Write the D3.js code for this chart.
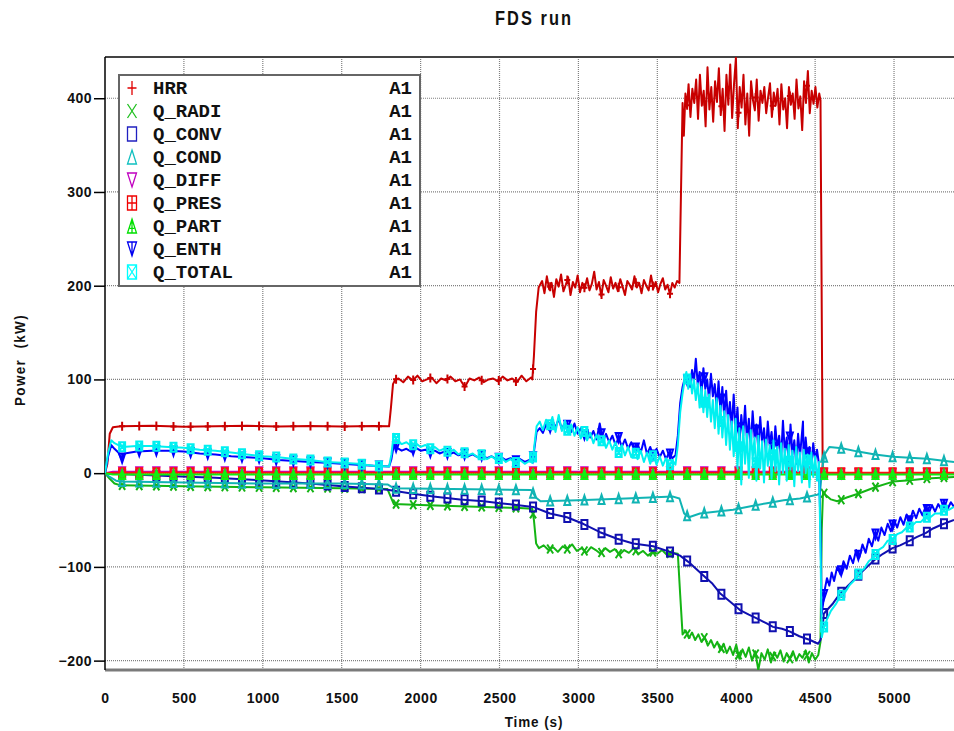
<!DOCTYPE html>
<html>
<head>
<meta charset="utf-8">
<title>FDS run</title>
<style>
  body {margin: 0; background: #fff;}
  svg {display: block;}
  .lbl {font-family: 'Liberation Sans', Arial, sans-serif; font-weight: bold; fill: #111;}
  .tick text {font-family: 'Liberation Sans', Arial, sans-serif; font-weight: bold; font-size: 14px; fill: #111; letter-spacing: 0.5px;}
  .legend-text {font-family: 'Liberation Mono', 'DejaVu Sans Mono', monospace; font-weight: bold; font-size: 19px; fill: #111;}
</style>
</head>
<body>
<svg></svg>
<script src="https://d3js.org/d3.v7.min.js"></script>
<script>
// ---- data: [time (s), power (kW)] ----
const hrr = [[0,0],[15,10],[30,42],[50,49],[100,50],[300,50.5],[500,49.5],[700,50],[900,50.5],[1100,49.8],[1300,50.3],[1500,49.7],[1700,50.2],[1800,50],[1812,70],[1825,95],[1840,100],
  [1860,101],[1890,97],[1920,103],[1950,99],[1980,104],[2010,98],[2040,100],[2070,102],[2100,96],[2130,101],[2160,99],[2190,103],[2220,98],[2250,100],[2280,92],[2310,101],[2340,99],[2370,102],[2400,97],[2430,100],[2460,101],[2490,98],[2520,103],[2550,99],[2580,101],[2610,97],[2640,104],[2670,98],[2700,102],[2708,100],[2718,125],[2732,172],[2748,198],
  [2770,205],[2785,192],[2800,210],[2815,196],[2830,203],[2845,188],[2860,207],[2875,199],[2890,212],[2905,194],[2920,201],[2935,209],[2950,190],[2965,204],[2980,198],[2995,211],[3010,193],[3025,203],[3040,197],[3055,208],[3070,195],[3085,202],[3100,215],[3115,196],[3130,204],[3145,189],[3160,206],[3175,200],[3190,193],[3205,209],[3220,197],[3235,203],[3250,194],[3265,207],[3280,199],[3295,190],[3310,205],[3325,201],[3340,196],[3355,210],[3370,198],[3385,203],[3400,192],[3415,206],[3430,200],[3445,195],[3460,211],[3475,197],[3490,204],[3505,193],[3520,202],[3535,208],[3550,196],[3565,201],[3580,191],[3595,203],[3610,198],[3625,205],[3640,203],[3650,300],[3660,395],
  [3668,360],[3678,405],[3688,390],[3698,415],[3710,380],[3722,410],[3734,395],[3746,420],[3758,378],[3770,425],[3782,392],[3794,408],[3806,370],[3818,433],[3830,388],[3842,412],[3854,375],[3866,418],[3878,396],[3890,432],[3902,382],[3914,410],[3926,365],[3938,425],[3950,393],[3962,436],[3974,379],[3986,415],[3998,443],[4010,368],[4022,412],[4034,390],[4046,425],[4058,372],[4070,405],[4082,360],[4094,418],[4106,398],[4118,387],[4130,420],[4142,376],[4154,408],[4166,395],[4178,412],[4190,384],[4202,401],[4214,416],[4226,380],[4238,406],[4250,392],[4262,410],[4274,372],[4286,415],[4298,388],[4310,400],[4322,368],[4334,412],[4346,393],[4358,405],[4370,378],[4382,420],[4394,389],[4406,402],[4418,366],[4430,418],[4442,395],[4454,429],[4466,384],[4478,408],[4490,394],[4502,412],[4514,390],[4526,405],[4534,398],[4541,200],[4548,0],[4700,0.3],[5000,-0.2],[5380,0]];

const qRadi = [[0,0],[30,-6],[60,-11],[100,-13],[500,-14],[1000,-15],[1500,-16],[1790,-17],[1810,-25],[1830,-33],[2000,-34],[2200,-35],[2400,-36],[2600,-37],[2708,-38],[2718,-50],[2732,-75],[2750,-80],
  [2780,-77],[2810,-82],[2840,-79],[2870,-84],[2900,-78],[2930,-81],[2960,-76],[2990,-83],[3020,-80],[3050,-85],[3080,-79],[3110,-82],[3140,-86],[3170,-80],[3200,-84],[3230,-81],[3260,-87],[3290,-82],[3320,-85],[3350,-80],[3380,-86],[3410,-83],[3440,-88],[3470,-84],[3500,-86],[3530,-82],[3560,-87],[3590,-85],[3630,-86],[3645,-130],[3660,-172],
  [3680,-168],[3700,-176],[3720,-170],[3740,-178],[3760,-172],[3780,-180],[3800,-175],[3820,-184],[3840,-178],[3860,-186],[3880,-180],[3900,-189],[3920,-182],[3940,-192],[3960,-185],[3980,-194],[4000,-183],[4020,-198],[4040,-188],[4060,-196],[4080,-186],[4100,-200],[4120,-190],[4140,-210],[4160,-192],[4180,-199],[4200,-188],[4220,-202],[4240,-191],[4260,-197],[4280,-189],[4300,-201],[4320,-192],[4340,-198],[4360,-190],[4380,-200],[4400,-193],[4420,-197],[4440,-189],[4460,-202],[4480,-192],[4500,-199],[4520,-194],[4534,-180],[4542,-60],[4550,-20],[4565,-23],[4600,-28],[4640,-30],[4700,-26],[4772,-22],[4880,-15],[4994,-9],[5101,-7.5],[5209,-5.7],[5380,-4]];

const qConv = [[0,0],[100,-1],[400,-3],[700,-5],[982,-7.5],[1300,-11],[1500,-14],[1743,-17],[1800,-18],[1950,-22],[2080,-25],[2250,-28],[2400,-30],[2503,-32],[2713,-36],[2820,-43],[2927,-47],[3030,-54],[3137,-63],[3245,-70],[3347,-75],[3474,-78],[3580,-84],[3644,-88],[3707,-96],[3790,-109],[3850,-118],[3897,-128],[3960,-137],[4024,-146],[4080,-151],[4130,-155],[4190,-160],[4233,-164],[4290,-166],[4341,-169],[4400,-174],[4468,-178],[4519,-182],[4534,-178],
  [4545,-170],[4555,-150],[4575,-146],[4613,-139],[4660,-128],[4721,-118],[4780,-108],[4829,-100],[4880,-92],[4930,-86],[4990,-80],[5038,-77],[5100,-72],[5146,-68],[5200,-64],[5247,-59],[5300,-55],[5380,-50]];

const qCond = [[0,0],[30,-4],[70,-8],[100,-9],[500,-10],[1000,-11],[1500,-11],[1790,-12],[1830,-16],[2200,-17],[2700,-18],[2730,-26],[2760,-30],[3000,-29],[3300,-27],[3600,-25],[3640,-27],[3670,-43],[3700,-47],[3770,-43],[3880,-41],[3980,-39],[4100,-35],[4195,-32],[4300,-29],[4404,-27],[4512,-23],[4530,-22],[4545,5],[4560,20],[4590,28],[4670,26.5],[4772,23],[4880,20],[4994,17.5],[5100,16.5],[5209,15.5],[5380,12]];

const qDiff = [[0,0],[50,1.5],[4530,1.5],[4550,0],[5380,0]];
const qPres = [[0,0],[50,0.5],[5380,0.5]];
const qPart = [[0,0],[50,-1.5],[5380,-1.5]];

const qEnth = [[0,0],[20,18],[40,30],[60,26],[85,22],[105,15],[125,21],[200,23],[300,24],[400,24],[500,23],[600,21],[700,20],[800,18],[900,17],[1000,16],[1100,14],[1200,13],[1300,12],[1400,11],[1500,10],[1600,9],[1700,8],[1800,7],
  [1815,15],[1830,30],[1850,27],[1880,24],[1910,26],[1940,23],[1970,27],[2000,24],[2030,25],[2060,22],[2090,24],[2120,21],[2150,23],[2180,20],[2210,22],[2240,19],[2270,21],[2300,18],[2330,20],[2360,17],[2390,19],[2420,16],[2450,18],[2480,15],[2510,17],[2540,14],[2570,16],[2600,13],[2630,15],[2660,12],[2690,14],[2708,13],
  [2720,25],[2735,44],[2755,48],[2775,43],[2795,52],[2815,46],[2835,55],[2855,49],[2875,58],[2895,47],[2915,54],[2935,50],[2955,44],[2975,53],[2995,42],[3015,48],[3035,40],[3055,47],[3075,38],[3095,45],[3115,36],[3135,53],[3155,34],[3175,42],[3195,33],[3215,40],[3235,30],[3255,38],[3275,28],[3295,36],[3315,26],[3335,33],[3355,24],[3375,31],[3395,22],[3415,35],[3435,20],[3455,28],[3475,18],[3495,26],[3515,17],[3535,24],[3555,15],[3575,22],[3595,16],[3615,19],
  [3630,40],[3645,75],[3660,92],[3672,100],[3684,96],[3696,104],[3708,92],[3720,110],[3732,98],[3744,122],[3756,95],[3768,108],[3780,85],[3792,112],[3804,90],[3816,100],[3828,78],[3840,106],[3852,82],[3864,95],[3876,70],[3888,98],[3900,66],[3912,92],[3924,60],[3936,88],[3948,55],[3960,76],[3972,48],[3984,84],[3996,45],[4008,70],[4020,30],[4032,62],[4044,40],[4056,72],[4068,35],[4080,58],[4092,28],[4104,66],[4116,38],[4128,52],[4140,25],[4152,60],[4164,32],[4176,48],[4188,22],[4200,55],[4212,30],[4224,44],[4236,18],[4248,50],[4260,26],[4272,40],[4284,15],[4296,56],[4308,22],[4320,38],[4332,12],[4344,52],[4356,20],[4368,35],[4380,10],[4392,42],[4404,18],[4423,55],[4428,8],[4440,38],[4452,15],[4464,28],[4476,6],[4488,32],[4500,14],[4512,25],[4524,10],
  [4534,-60],[4542,-150],[4550,-140],[4560,-125],[4575,-112],[4590,-120],[4605,-106],[4620,-115],[4640,-100],[4660,-108],[4680,-94],[4700,-102],[4720,-88],[4740,-96],[4760,-82],[4780,-90],[4800,-76],[4820,-85],[4840,-70],[4860,-78],[4880,-64],[4900,-72],[4920,-58],[4940,-66],[4960,-54],[4980,-62],[5000,-50],[5020,-58],[5040,-47],[5060,-55],[5080,-44],[5100,-51],[5120,-40],[5140,-48],[5160,-38],[5180,-45],[5200,-36],[5220,-43],[5240,-34],[5260,-41],[5280,-33],[5300,-39],[5320,-32],[5340,-38],[5360,-31],[5380,-36]];

const qTotal = [[0,0],[20,22],[40,35],[60,32],[85,30],[110,28],[200,29],[300,29],[400,28],[500,27],[600,25],[700,24],[800,22],[900,20],[1000,18],[1100,17],[1200,15],[1300,14],[1400,12],[1500,11],[1600,10],[1700,8],[1800,7],
  [1815,20],[1830,42],[1850,35],[1880,31],[1910,33],[1940,29],[1970,32],[2000,28],[2030,30],[2060,26],[2090,28],[2120,24],[2150,26],[2180,22],[2210,25],[2240,20],[2270,23],[2300,19],[2330,21],[2360,17],[2390,20],[2420,15],[2450,18],[2480,14],[2510,17],[2540,12],[2570,15],[2600,11],[2630,14],[2660,10],[2690,13],[2708,11],
  [2720,28],[2735,50],[2755,55],[2775,46],[2795,57],[2815,48],[2835,60],[2855,44],[2875,62],[2895,45],[2915,56],[2935,42],[2955,52],[2975,40],[2995,49],[3015,37],[3035,46],[3055,35],[3075,43],[3095,32],[3115,41],[3135,30],[3155,38],[3175,27],[3195,35],[3215,25],[3235,33],[3255,22],[3275,30],[3295,19],[3315,28],[3335,17],[3355,26],[3375,15],[3395,24],[3415,12],[3435,22],[3455,10],[3475,20],[3495,9],[3515,18],[3535,8],[3555,16],[3575,7],[3595,14],[3615,9],
  [3630,30],[3645,65],[3660,85],[3672,98],[3684,108],[3696,90],[3708,105],[3720,85],[3732,100],[3744,78],[3756,96],[3768,70],[3780,92],[3792,65],[3804,88],[3816,60],[3828,84],[3840,55],[3852,78],[3864,48],[3876,80],[3888,42],[3900,72],[3912,38],[3924,66],[3936,30],[3948,62],[3960,25],[3972,55],[3984,18],[3996,58],[4008,5],[4020,48],[4032,-12],[4044,50],[4056,10],[4068,42],[4080,-5],[4092,46],[4104,15],[4116,38],[4128,-8],[4140,40],[4152,5],[4164,34],[4176,-10],[4188,36],[4200,8],[4212,30],[4224,-6],[4236,35],[4248,2],[4260,28],[4272,-12],[4284,32],[4296,0],[4308,26],[4320,-8],[4332,30],[4344,4],[4356,24],[4368,-14],[4380,28],[4392,2],[4404,22],[4416,-10],[4428,25],[4440,0],[4452,20],[4464,-15],[4476,22],[4488,-4],[4500,18],[4512,-8],[4524,12],
  [4534,-80],[4542,-175],[4555,-165],[4575,-156],[4600,-147],[4630,-140],[4660,-131],[4690,-127],[4720,-119],[4750,-114],[4780,-106],[4810,-102],[4840,-94],[4870,-90],[4900,-82],[4930,-79],[4960,-72],[4990,-71],[5020,-65],[5050,-63],[5080,-58],[5110,-57],[5140,-52],[5170,-52],[5200,-47],[5230,-47],[5260,-43],[5290,-43],[5320,-39],[5350,-39],[5380,-36]];

const seriesNames = ["HRR", "Q_RADI", "Q_CONV", "Q_COND", "Q_DIFF", "Q_PRES", "Q_PART", "Q_ENTH", "Q_TOTAL"];
const seriesData = [hrr, qRadi, qConv, qCond, qDiff, qPres, qPart, qEnth, qTotal];
const seriesColors = ["#c80000", "#14b414", "#1010b0", "#10b4b4", "#c800c8", "#ff1010", "#10f010", "#0000ff", "#00f0f0"];
const legendColors = ["#e00000", "#20c020", "#2020c0", "#10c0c0", "#c000c0", "#f00000", "#00e000", "#0000f0", "#00ffff"];
const seriesMarkers = ["plus", "cross", "rect", "triUp", "triDown", "rectPlus", "triUpBar", "triDownBar", "rectX"];
const xTicks = [0, 500, 1000, 1500, 2000, 2500, 3000, 3500, 4000, 4500, 5000];
const yTicks = [-200, -100, 0, 100, 200, 300, 400];

// ---- layout ----
const W = 954, H = 731;
const pLeft = 105, pRight = 954, pTop = 57, pBottom = 670;

const svg = d3.select("svg").attr("width", W).attr("height", H);

const x = d3.scaleLinear().domain([0, 5380]).range([pLeft, pRight]);
const y = d3.scaleLinear().domain([-210, 444]).range([pBottom, pTop]);

svg.append("defs").append("clipPath").attr("id", "plotclip")
  .append("rect").attr("x", pLeft).attr("y", pTop).attr("width", pRight - pLeft).attr("height", pBottom - pTop);

// grid
const grid = svg.append("g");
grid.selectAll(".vg").data(xTicks.filter(d => d > 0)).enter().append("line")
  .attr("x1", d => x(d)).attr("x2", d => x(d)).attr("y1", pTop).attr("y2", pBottom)
  .attr("stroke", "#808080").attr("stroke-width", 1.2).attr("stroke-dasharray", "1,1");
grid.selectAll(".hg").data(yTicks).enter().append("line")
  .attr("x1", pLeft).attr("x2", pRight).attr("y1", d => y(d)).attr("y2", d => y(d))
  .attr("stroke", "#808080").attr("stroke-width", 1.2).attr("stroke-dasharray", "1,1");

// frame
svg.append("line").attr("x1", pLeft).attr("x2", pRight).attr("y1", pTop).attr("y2", pTop)
  .attr("stroke", "#444").attr("stroke-width", 2);
svg.append("line").attr("x1", pLeft).attr("x2", pRight).attr("y1", pBottom).attr("y2", pBottom)
  .attr("stroke", "#7a7a7a").attr("stroke-width", 3);

// axes
const yAxis = svg.append("g").attr("transform", `translate(${pLeft},0)`)
  .call(d3.axisLeft(y).tickValues(yTicks).tickSize(11).tickPadding(2));
yAxis.select(".domain").remove();
yAxis.selectAll(".tick line").attr("stroke", "#000").attr("stroke-width", 1.5);
svg.append("line").attr("x1", pLeft).attr("x2", pLeft).attr("y1", pTop).attr("y2", pBottom)
  .attr("stroke", "#000").attr("stroke-width", 1.5);

const xAxis = svg.append("g").attr("transform", `translate(0,${pBottom})`)
  .call(d3.axisBottom(x).tickValues(xTicks).tickFormat(d3.format("d")).tickSize(0).tickPadding(23));
xAxis.select(".domain").remove();

// titles (condensed look via horizontal squeeze)
svg.append("text").attr("class", "lbl")
  .attr("transform", "translate(534,25) scale(0.82,1)")
  .attr("text-anchor", "middle").style("font-size", "20px").style("letter-spacing", "2.5px").text("FDS run");
svg.append("text").attr("class", "lbl")
  .attr("transform", "translate(534,727) scale(0.9,1)")
  .attr("text-anchor", "middle").style("font-size", "15px").style("letter-spacing", "1px").text("Time (s)");
svg.append("text").attr("class", "lbl")
  .attr("transform", "translate(25,360) rotate(-90) scale(0.9,1)")
  .attr("text-anchor", "middle").style("font-size", "15px").style("letter-spacing", "1.5px")
  .style("white-space", "pre").text("Power  (kW)");

// marker shapes
function markerPath(type, w, h) {
  const a = w / 2, b = h / 2;
  const rect = `M${-a},${-b}H${a}V${b}H${-a}Z`;
  const plus = `M0,${-b}V${b}M${-a},0H${a}`;
  const cross = `M${-a},${-b}L${a},${b}M${a},${-b}L${-a},${b}`;
  const up = `M0,${-b}L${a},${b}H${-a}Z`;
  const down = `M0,${b}L${a},${-b}H${-a}Z`;
  switch (type) {
    case "plus": return plus;
    case "cross": return cross;
    case "rect": return rect;
    case "triUp": return up;
    case "triDown": return down;
    case "rectPlus": return rect + plus;
    case "triUpBar": return up + `M0,${-b}V${b}M${-a / 2},${b / 3}H${a / 2}`;
    case "triDownBar": return down + `M0,${-b}V${b}`;
    case "rectX": return rect + cross;
  }
}

function valueAt(data, t) {
  const i = d3.bisector(d => d[0]).left(data, t);
  if (i <= 0) return data[0][1];
  if (i >= data.length) return data[data.length - 1][1];
  const p = data[i - 1], q = data[i];
  return p[1] + (q[1] - p[1]) * (t - p[0]) / (q[0] - p[0]);
}

const markerTimes = d3.range(108.5, 5380, 108.5);

const line = d3.line().x(d => x(d[0])).y(d => y(d[1]));
const plot = svg.append("g").attr("clip-path", "url(#plotclip)");

seriesData.forEach((data, i) => {
  const g = plot.append("g");
  g.append("path").datum(data).attr("d", line)
    .attr("fill", "none").attr("stroke", seriesColors[i]).attr("stroke-width", 2)
    .attr("stroke-linejoin", "round");
  g.selectAll(".m").data(markerTimes).enter().append("path")
    .attr("transform", t => `translate(${x(t)},${y(valueAt(data, t))})`)
    .attr("d", markerPath(seriesMarkers[i], 6, 9))
    .attr("fill", "none").attr("stroke", seriesColors[i]).attr("stroke-width", 2);
});

// legend
const lg = svg.append("g");
lg.append("rect").attr("x", 119).attr("y", 75).attr("width", 301).attr("height", 211)
  .attr("fill", "#fff").attr("stroke", "#666").attr("stroke-width", 2);
seriesNames.forEach((name, i) => {
  const cy = 88 + i * 23;
  lg.append("path").attr("transform", `translate(132,${cy})`)
    .attr("d", markerPath(seriesMarkers[i], 9, 14))
    .attr("fill", "none").attr("stroke", legendColors[i]).attr("stroke-width", 1.3);
  lg.append("text").attr("class", "legend-text").attr("x", 153).attr("y", cy + 6).text(name);
  lg.append("text").attr("class", "legend-text").attr("x", 412).attr("y", cy + 6)
    .attr("text-anchor", "end").text("A1");
});
</script>
</body>
</html>
